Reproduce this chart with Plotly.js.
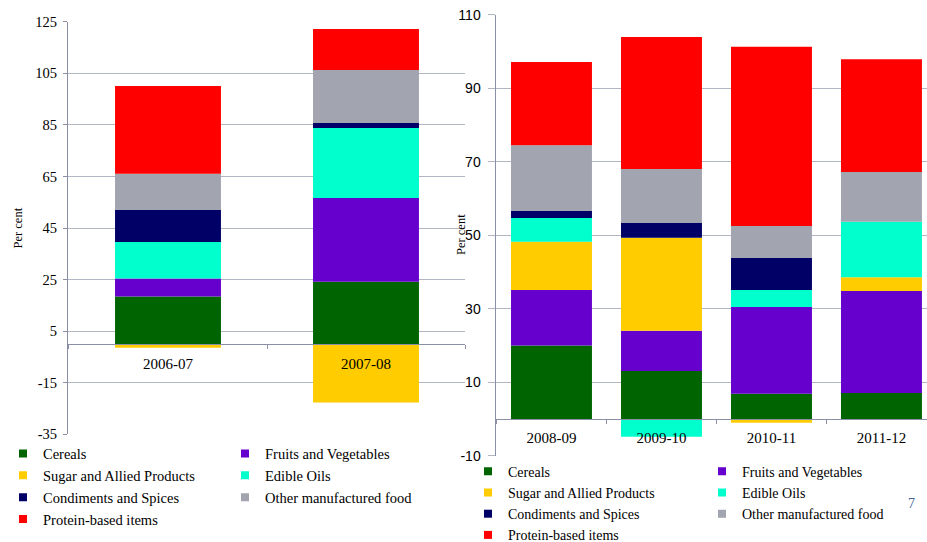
<!DOCTYPE html>
<html>
<head>
<meta charset="utf-8">
<script src="https://cdn.plot.ly/plotly-3.0.1.min.js"></script>
<style>
html,body{margin:0;padding:0;background:#fff;}
#chart{width:927px;height:542px;}
</style>
</head>
<body>
<div id="chart"></div>
<script>
// ---- Data ----
const seriesNames = ["Cereals", "Fruits and Vegetables", "Sugar and Allied Products", "Edible Oils", "Condiments and Spices", "Other manufactured food", "Protein-based items"];
const seriesColors = ["#006400", "#6600CC", "#FFCC00", "#00FFCC", "#000066", "#A2A5B0", "#FF0000"];

const leftYears = ["2006-07", "2007-08"];
const leftCereals = [18.4, 24.2];
const leftFruits = [7.0, 32.4];
const leftSugar = [-1.4, -22.7];
const leftOils = [14.2, 27.2];
const leftCondiments = [12.4, 1.9];
const leftOther = [14.0, 20.6];
const leftProtein = [34.1, 15.9];

const rightYears = ["2008-09", "2009-10", "2010-11", "2011-12"];
const rightCereals = [20.0, 13.1, 6.9, 7.1];
const rightFruits = [15.1, 10.9, 23.6, 27.7];
const rightSugar = [13.1, 25.3, -1.0, 3.8];
const rightOils = [6.5, -4.8, 4.6, 15.1];
const rightCondiments = [1.9, 4.0, 8.7, 0.0];
const rightOther = [17.9, 14.7, 8.7, 13.5];
const rightProtein = [22.6, 35.9, 48.8, 30.7];

const leftTicks = [-35, -15, 5, 25, 45, 65, 85, 105, 125];
const rightTicks = [-10, 10, 30, 50, 70, 90, 110];

// ---- Build traces ----
const leftSeries = [leftCereals, leftFruits, leftSugar, leftOils, leftCondiments, leftOther, leftProtein];
const rightSeries = [rightCereals, rightFruits, rightSugar, rightOils, rightCondiments, rightOther, rightProtein];

const traces = [];
seriesNames.forEach((name, i) => {
  traces.push({type: "bar", name: name, x: leftYears, y: leftSeries[i], xaxis: "x", yaxis: "y",
    marker: {color: seriesColors[i], line: {width: 0}}, width: 0.535, showlegend: false, hoverinfo: "name+y"});
});
seriesNames.forEach((name, i) => {
  traces.push({type: "bar", name: name, x: rightYears, y: rightSeries[i], xaxis: "x2", yaxis: "y2",
    marker: {color: seriesColors[i], line: {width: 0}}, width: 0.736, showlegend: false, hoverinfo: "name+y"});
});
// legend entries (two columns for each panel)
const col1 = [0, 2, 4, 6], col2 = [1, 3, 5];
function legendTrace(i, leg, xa, ya) {
  return {type: "scatter", mode: "markers", name: seriesNames[i], x: [null], y: [null], xaxis: xa, yaxis: ya,
    marker: {symbol: "square", size: 8, color: seriesColors[i], line: {width: 0}}, legend: leg, showlegend: true, hoverinfo: "skip"};
}
col1.forEach(i => traces.push(legendTrace(i, "legend", "x", "y")));
col2.forEach(i => traces.push(legendTrace(i, "legend2", "x", "y")));
col1.forEach(i => traces.push(legendTrace(i, "legend3", "x2", "y2")));
col2.forEach(i => traces.push(legendTrace(i, "legend4", "x2", "y2")));

const W = 927, H = 542;
const px = v => v / W;
const py = v => 1 - v / H;
const serif = "Liberation Serif, Times New Roman, serif";
const sans = "Liberation Sans, Arial, sans-serif";
const gridC = "#b2b6c4";
const axisC = "#8a8fa6";

function legendBox(x, yTop, size) {
  return {x: px(x), y: py(yTop), xanchor: "left", yanchor: "top", orientation: "v",
    bgcolor: "rgba(0,0,0,0)", borderwidth: 0, font: {family: serif, size: size, color: "#000"},
    itemclick: false, itemdoubleclick: false, tracegroupgap: 0};
}

const layout = {
  width: W, height: H,
  margin: {l: 0, r: 0, t: 0, b: 0, autoexpand: false},
  paper_bgcolor: "#fff", plot_bgcolor: "rgba(0,0,0,0)",
  barmode: "relative",
  showlegend: true,
  xaxis: {domain: [px(68), px(465)], range: [-0.505, 1.5], type: "category", anchor: "free", position: py(344.1),
    showline: true, linecolor: axisC, linewidth: 1, ticks: "outside", tickson: "boundaries", ticklen: 4, tickcolor: axisC,
    showgrid: false, zeroline: false, tickfont: {family: serif, size: 15, color: "#000"}, ticklabelstandoff: 6, fixedrange: true},
  yaxis: {domain: [py(434.3), py(21.7)], range: [-35, 125], anchor: "x", tickmode: "array", tickvals: leftTicks,
    ticktext: leftTicks.map(String),
    showline: true, linecolor: axisC, linewidth: 1, ticks: "outside", ticklen: 4, tickcolor: axisC,
    showgrid: true, gridcolor: gridC, gridwidth: 1, zeroline: false, ticklabelstandoff: 3,
    tickfont: {family: serif, size: 14.5, color: "#000"}, fixedrange: true},
  xaxis2: {domain: [px(495.5), 1], range: [-0.509, 3.414], type: "category", anchor: "free", position: py(419.1),
    showline: true, linecolor: axisC, linewidth: 1, ticks: "outside", tickson: "boundaries", ticklen: 4, tickcolor: axisC,
    showgrid: false, zeroline: false, tickfont: {family: serif, size: 15, color: "#000"}, ticklabelstandoff: 5, fixedrange: true},
  yaxis2: {domain: [py(455.8), py(14.7)], range: [-10, 110], anchor: "x2", tickmode: "array", tickvals: rightTicks,
    ticktext: rightTicks.map(String),
    showline: true, linecolor: axisC, linewidth: 1, ticks: "outside", ticklen: 7, tickcolor: gridC,
    showgrid: true, gridcolor: gridC, gridwidth: 1, zeroline: false, ticklabelstandoff: 4,
    tickfont: {family: sans, size: 14, color: "#000"}, fixedrange: true},
  legend: legendBox(3, 437.5, 14.5),
  legend2: legendBox(225, 437.5, 14.5),
  legend3: legendBox(468, 455.7, 14),
  legend4: legendBox(702, 455.7, 14),
  annotations: [
    {text: "Per cent", textangle: -90, xref: "paper", yref: "paper", x: px(17.5), y: py(228), showarrow: false,
      xanchor: "center", yanchor: "middle", font: {family: serif, size: 12.5, color: "#000"}},
    {text: "Per cent", textangle: -90, xref: "paper", yref: "paper", x: px(461), y: py(235), showarrow: false,
      xanchor: "center", yanchor: "middle", font: {family: serif, size: 12.5, color: "#000"}},
    {text: "7", xref: "paper", yref: "paper", x: px(911), y: py(503), showarrow: false,
      xanchor: "center", yanchor: "middle", font: {family: serif, size: 14, color: "#3f5f94"}}
  ]
};

Plotly.newPlot("chart", traces, layout, {displayModeBar: false, staticPlot: true});
</script>
</body>
</html>
